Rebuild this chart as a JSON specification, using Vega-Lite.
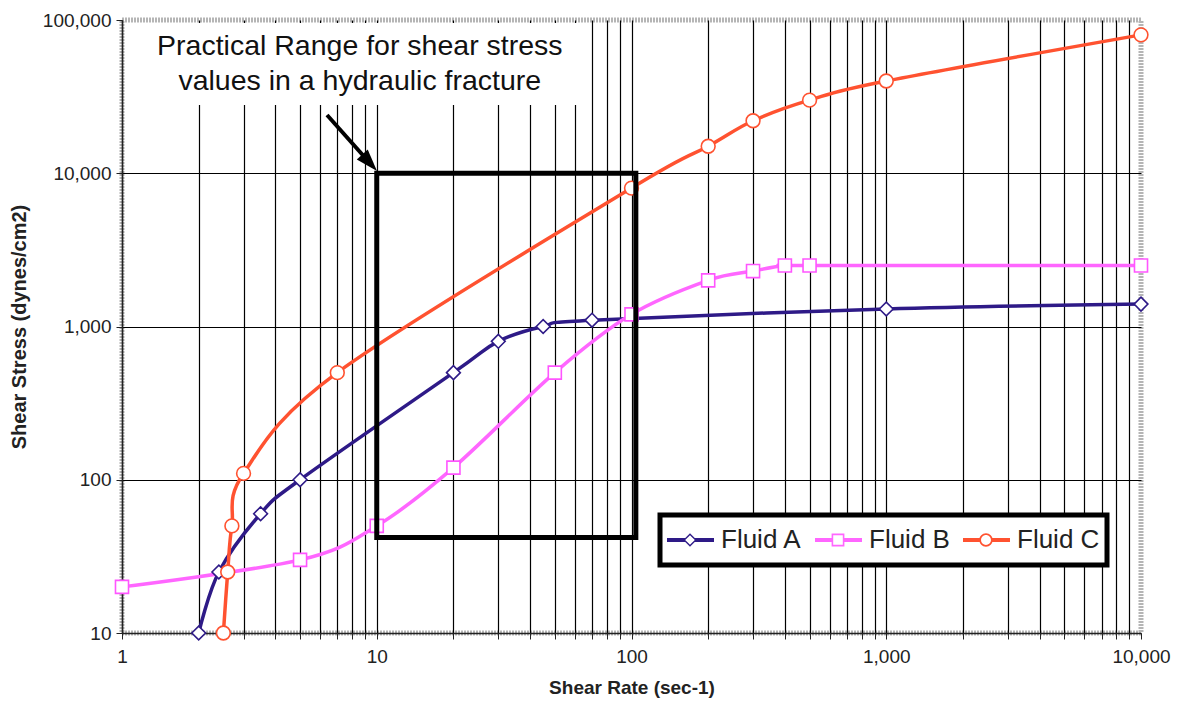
{
  "$schema": "https://vega.github.io/schema/vega-lite/v6.json",
  "width": 1019,
  "height": 613,
  "autosize": {"type": "none"},
  "padding": {"left": 122, "top": 20, "right": 39, "bottom": 75},
  "background": "white",
  "config": {
    "font": "Liberation Sans",
    "view": {"stroke": "#b5b5b5", "strokeWidth": 5, "strokeDash": [2, 1]},
    "legend": {"strokeWidth": 5}
  },
  "datasets": {
    "series": [
      {"fluid": "Fluid A", "x": 2, "y": 10},
      {"fluid": "Fluid A", "x": 2.4, "y": 25},
      {"fluid": "Fluid A", "x": 3.5, "y": 60},
      {"fluid": "Fluid A", "x": 5, "y": 100},
      {"fluid": "Fluid A", "x": 20, "y": 500},
      {"fluid": "Fluid A", "x": 30, "y": 800},
      {"fluid": "Fluid A", "x": 45, "y": 1000},
      {"fluid": "Fluid A", "x": 70, "y": 1100},
      {"fluid": "Fluid A", "x": 1000, "y": 1300},
      {"fluid": "Fluid A", "x": 10000, "y": 1400},
      {"fluid": "Fluid B", "x": 1, "y": 20},
      {"fluid": "Fluid B", "x": 5, "y": 30},
      {"fluid": "Fluid B", "x": 10, "y": 50},
      {"fluid": "Fluid B", "x": 20, "y": 120},
      {"fluid": "Fluid B", "x": 50, "y": 500},
      {"fluid": "Fluid B", "x": 100, "y": 1200},
      {"fluid": "Fluid B", "x": 200, "y": 2000},
      {"fluid": "Fluid B", "x": 300, "y": 2300},
      {"fluid": "Fluid B", "x": 400, "y": 2500},
      {"fluid": "Fluid B", "x": 500, "y": 2500},
      {"fluid": "Fluid B", "x": 10000, "y": 2500},
      {"fluid": "Fluid C", "x": 2.5, "y": 10},
      {"fluid": "Fluid C", "x": 2.6, "y": 25},
      {"fluid": "Fluid C", "x": 2.7, "y": 50},
      {"fluid": "Fluid C", "x": 3, "y": 110},
      {"fluid": "Fluid C", "x": 7, "y": 500},
      {"fluid": "Fluid C", "x": 100, "y": 8000},
      {"fluid": "Fluid C", "x": 200, "y": 15000},
      {"fluid": "Fluid C", "x": 300, "y": 22000},
      {"fluid": "Fluid C", "x": 500, "y": 30000},
      {"fluid": "Fluid C", "x": 1000, "y": 40000},
      {"fluid": "Fluid C", "x": 10000, "y": 80000}
    ],
    "box": [{"x": 10, "x2": 104, "y": 42, "y2": 10000}],
    "textbg": [{"x": 1.5, "x2": 65.7, "y": 27900, "y2": 95600}],
    "note": [
      {"x": 8.58, "y": 67600, "text": "Practical Range for shear stress"},
      {"x": 8.58, "y": 39900, "text": "values in a hydraulic fracture"}
    ],
    "arrow": [{"x": 6.38, "y": 23990, "x2": 9.17, "y2": 12205}],
    "arrowhead": [{"x": 9.17, "y": 12205}]
  },
  "encoding": {
    "x": {
      "field": "x",
      "type": "quantitative",
      "scale": {"type": "log", "domain": [1, 10000], "nice": false, "zero": false},
      "axis": {
        "title": "Shear Rate (sec-1)",
        "values": [1,2,3,4,5,6,7,8,9,10,20,30,40,50,60,70,80,90,100,200,300,400,500,600,700,800,900,1000,2000,3000,4000,5000,6000,7000,8000,9000,10000],
        "labelExpr": "indexof([1,10,100,1000,10000], datum.value) >= 0 ? format(datum.value, ',') : ''",
        "grid": true,
        "gridColor": {"condition": {"test": "datum.value == 10000", "value": "transparent"}, "value": "#000000"},
        "gridWidth": 1.2,
        "gridOpacity": 1,
        "domain": true,
        "domainColor": "#222222",
        "domainWidth": 1.5,
        "ticks": true,
        "tickColor": "#222222",
        "tickSize": 6,
        "tickWidth": 1,
        "labelFont": "Liberation Sans",
        "labelFontSize": 19,
        "labelColor": "#222222",
        "labelPadding": 8,
        "labelFlush": false,
        "labelOverlap": false,
        "titleFont": "Liberation Sans",
        "titleFontSize": 19,
        "titleFontWeight": "bold",
        "titleColor": "#222222",
        "titlePadding": 12
      }
    },
    "y": {
      "field": "y",
      "type": "quantitative",
      "scale": {"type": "log", "domain": [10, 100000], "nice": false, "zero": false},
      "axis": {
        "title": "Shear Stress (dynes/cm2)",
        "values": [10, 100, 1000, 10000, 100000],
        "format": ",",
        "grid": true,
        "gridColor": {"condition": {"test": "datum.value == 100000", "value": "transparent"}, "value": "#000000"},
        "gridWidth": 1.2,
        "gridOpacity": 1,
        "domain": true,
        "domainColor": "#222222",
        "domainWidth": 1.5,
        "ticks": true,
        "tickColor": "#222222",
        "tickSize": 6,
        "tickWidth": 1,
        "labelFont": "Liberation Sans",
        "labelFontSize": 19,
        "labelColor": "#222222",
        "labelPadding": 5,
        "labelFlush": false,
        "labelOverlap": false,
        "titleFont": "Liberation Sans",
        "titleFontSize": 20,
        "titleFontWeight": "bold",
        "titleColor": "#222222",
        "titlePadding": 13
      }
    }
  },
  "layer": [
    {
      "data": {"name": "textbg"},
      "mark": {"type": "rect", "fill": "white", "strokeWidth": 0},
      "encoding": {"x2": {"field": "x2"}, "y2": {"field": "y2"}}
    },
    {
      "data": {"name": "series"},
      "transform": [{"filter": "datum.fluid == 'Fluid A'"}],
      "mark": {"type": "line", "strokeWidth": 3.5, "interpolate": "cardinal", "color": "#2E1A87"}
    },
    {
      "data": {"name": "series"},
      "transform": [{"filter": "datum.fluid == 'Fluid B'"}],
      "mark": {"type": "line", "strokeWidth": 3.5, "interpolate": "cardinal", "color": "#FF66FF"}
    },
    {
      "data": {"name": "series"},
      "transform": [{"filter": "datum.fluid == 'Fluid C'"}],
      "mark": {"type": "line", "strokeWidth": 3.5, "interpolate": "cardinal", "color": "#FF5230"}
    },
    {
      "data": {"name": "series"},
      "transform": [{"filter": "datum.fluid == 'Fluid A'"}],
      "mark": {"type": "point", "shape": "diamond", "filled": true, "fill": "white", "stroke": "#2E1A87", "strokeWidth": 1.6, "size": 190, "opacity": 1}
    },
    {
      "data": {"name": "series"},
      "transform": [{"filter": "datum.fluid == 'Fluid B'"}],
      "mark": {"type": "point", "shape": "square", "filled": true, "fill": "white", "stroke": "#FF55FF", "strokeWidth": 1.6, "size": 170, "opacity": 1}
    },
    {
      "data": {"name": "series"},
      "transform": [{"filter": "datum.fluid == 'Fluid C'"}],
      "mark": {"type": "point", "shape": "circle", "filled": true, "fill": "white", "stroke": "#FF5230", "strokeWidth": 1.6, "size": 190, "opacity": 1}
    },
    {
      "data": {"name": "box"},
      "mark": {"type": "rect", "fill": "transparent", "stroke": "black", "strokeWidth": 5},
      "encoding": {"x2": {"field": "x2"}, "y2": {"field": "y2"}}
    },
    {
      "data": {"name": "arrow"},
      "mark": {"type": "rule", "stroke": "black", "strokeWidth": 4},
      "encoding": {"x2": {"field": "x2"}, "y2": {"field": "y2"}}
    },
    {
      "data": {"name": "arrowhead"},
      "mark": {"type": "point", "shape": "M0,-1L0.5,0.5L-0.5,0.5Z", "filled": true, "fill": "black", "strokeWidth": 0, "size": 864, "angle": 138, "opacity": 1},
      "encoding": {}
    },
    {
      "data": {"name": "note"},
      "mark": {"type": "text", "font": "Liberation Sans", "fontSize": 28.5, "color": "#111111", "align": "center", "baseline": "middle"},
      "encoding": {"text": {"field": "text"}}
    },
    {
      "data": {"name": "series"},
      "transform": [{"filter": "false"}],
      "mark": {"type": "point", "filled": true, "opacity": 1},
      "encoding": {
        "color": {
          "field": "fluid",
          "type": "nominal",
          "scale": {"domain": ["Fluid A", "Fluid B", "Fluid C"], "range": ["#2E1A87", "#FF66FF", "#FF5230"]},
          "legend": {
            "title": null,
            "orient": "none",
            "legendX": 538,
            "legendY": 495,
            "direction": "horizontal",
            "symbolSize": 1024,
            "symbolOffset": 7,
            "symbolStrokeWidth": 0,
            "clipHeight": 36,
            "labelOffset": 15,
            "labelFont": "Liberation Sans",
            "labelFontSize": 26,
            "labelColor": "#222222",
            "columnPadding": 13,
            "padding": 7,
            "fillColor": "white",
            "strokeColor": "black"
          }
        },
        "shape": {
          "field": "fluid",
          "type": "nominal",
          "scale": {
            "domain": ["Fluid A", "Fluid B", "Fluid C"],
            "range": [
              "M-1.5,-0.125H-0.3V0.125H-1.5Z M0.3,-0.125H1.5V0.125H0.3Z M0,-0.42L0.42,0L0,0.42L-0.42,0Z M0,-0.3L-0.3,0L0,0.3L0.3,0Z",
              "M-1.5,-0.125H-0.34V0.125H-1.5Z M0.34,-0.125H1.5V0.125H0.34Z M-0.4,-0.4H0.4V0.4H-0.4Z M-0.3,-0.3V0.3H0.3V-0.3Z",
              "M-1.5,-0.125H-0.34V0.125H-1.5Z M0.34,-0.125H1.5V0.125H0.34Z M-0.42,0A0.42 0.42 0 1 1 0.42,0A0.42 0.42 0 1 1 -0.42,0Z M-0.31,0A0.31 0.31 0 1 0 0.31,0A0.31 0.31 0 1 0 -0.31,0Z"
            ]
          },
          "legend": {
            "title": null,
            "orient": "none",
            "legendX": 538,
            "legendY": 495,
            "direction": "horizontal",
            "symbolSize": 1024,
            "symbolOffset": 7,
            "symbolStrokeWidth": 0,
            "clipHeight": 36,
            "labelOffset": 15,
            "labelFont": "Liberation Sans",
            "labelFontSize": 26,
            "labelColor": "#222222",
            "columnPadding": 13,
            "padding": 7,
            "fillColor": "white",
            "strokeColor": "black"
          }
        }
      }
    }
  ]
}
